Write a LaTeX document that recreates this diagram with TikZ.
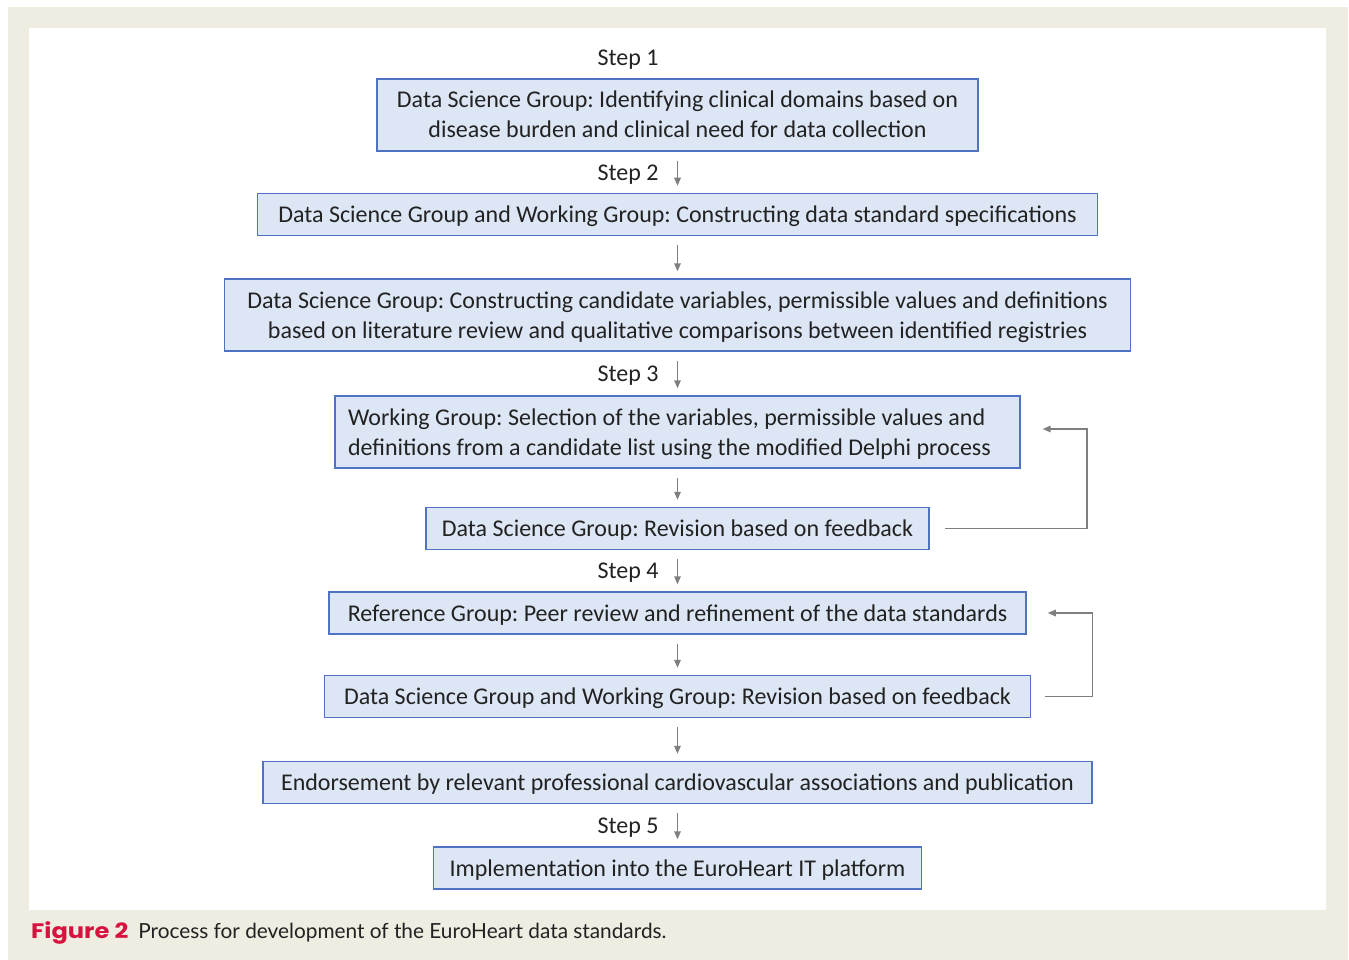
\documentclass[tikz,border=0pt]{standalone}
\usepackage{fontspec}
\usepackage{graphicx}
\setmainfont{Carlito}
\newfontfamily\capfont{Lato}
\newfontfamily\figfont{Poppins}
\usetikzlibrary{arrows.meta}
\definecolor{beige}{HTML}{EFECE2}
\definecolor{boxfill}{HTML}{DDE6F5}
\definecolor{boxline}{HTML}{4F72C2}
\definecolor{arrowgray}{HTML}{7F7F7F}
\definecolor{figred}{HTML}{D6123F}
\definecolor{txt}{HTML}{222222}
\newcommand\bstrut{\rule[-6pt]{0pt}{28pt}}
\frenchspacing
\begin{document}
\begin{tikzpicture}[x=1pt,y=-1pt,
  stepbox/.style={draw=boxline, fill=boxfill, line width=1.5pt, inner sep=0pt,
    font=\fontsize{24}{30}\selectfont\frenchspacing, text=txt, align=center, minimum height=42pt},
  twoline/.style={minimum height=72pt},
  steplabel/.style={font=\fontsize{24}{30}\selectfont, text=txt, inner sep=0pt, anchor=base},
  flow/.style={draw=arrowgray, line width=1.5pt, -{Triangle[length=8pt,width=6.5pt]},
    shorten <=9pt, shorten >=7pt},
  fb/.style={draw=arrowgray, line width=1.5pt, -{Triangle[length=8pt,width=6.5pt]}}]
\useasboundingbox (0,0) rectangle (1349,960);
\fill[beige] (8,7) rectangle (1348,960);
\fill[white] (29,28) rectangle (1326,910);

\node[steplabel] (s1) at (628,65.5) {Step 1};
\node[stepbox, twoline, minimum width=601pt] (b1) at (677.5,115)
  {\bstrut Data Science Group: Identifying clinical domains based on\\\bstrut disease burden and clinical need for data collection};
\node[steplabel] (s2) at (628,180.5) {Step 2};
\node[stepbox, minimum width=840pt] (b2) at (677.5,214.5)
  {\bstrut Data Science Group and Working Group: Constructing data standard specifications};
\node[stepbox, twoline, minimum width=906pt] (b3) at (677.5,315)
  {\bstrut Data Science Group: Constructing candidate variables, permissible values and definitions\\\bstrut based on literature review and qualitative comparisons between identified registries};
\node[steplabel] (s3) at (628,381.5) {Step 3};
\node[stepbox, twoline, inner xsep=13pt, align=left] (b4) at (677.5,432)
  {\bstrut Working Group: Selection of the variables, permissible values and\\\bstrut definitions from a candidate list using the modified Delphi process\hspace*{16pt}};
\node[stepbox, minimum width=503pt] (b5) at (677.5,528.5)
  {\bstrut Data Science Group: Revision based on feedback};
\node[steplabel] (s4) at (628,578.5) {Step 4};
\node[stepbox, minimum width=697pt] (b6) at (677.5,613)
  {\bstrut Reference Group: Peer review and refinement of the data standards};
\node[stepbox, minimum width=706pt] (b7) at (677.5,696.5)
  {\bstrut Data Science Group and Working Group: Revision based on feedback};
\node[stepbox, minimum width=829pt] (b8) at (677.5,782.5)
  {\bstrut Endorsement by relevant professional cardiovascular associations and publication};
\node[steplabel] (s5) at (628,833.5) {Step 5};
\node[stepbox, minimum width=488pt] (b9) at (677.5,868)
  {\bstrut Implementation into the EuroHeart IT platform};

\draw[flow] (b1.south) -- (b2.north);
\draw[flow] (b2.south) -- (b3.north);
\draw[flow] (b3.south) -- (b4.north);
\draw[flow] (b4.south) -- (b5.north);
\draw[flow] (b5.south) -- (b6.north);
\draw[flow] (b6.south) -- (b7.north);
\draw[flow] (b7.south) -- (b8.north);
\draw[flow] (b8.south) -- (b9.north);

\draw[fb] ([xshift=15pt]b5.east) -- ++(142pt,0pt) |- ([xshift=22pt,yshift=3pt]b4.east);
\draw[fb] ([xshift=14pt]b7.east) -- ++(47pt,0pt) |- ([xshift=21pt]b6.east);

\node[anchor=base west, inner sep=0pt, font=\capfont\fontsize{20.8}{24}\selectfont, text=txt] (cap) at (31,938)
  {\scalebox{1.15}[1]{\figfont\bfseries\fontsize{21}{24}\selectfont\color{figred}Figure 2}\hspace{10pt}Process for development of the EuroHeart data standards.};
\end{tikzpicture}
\end{document}
